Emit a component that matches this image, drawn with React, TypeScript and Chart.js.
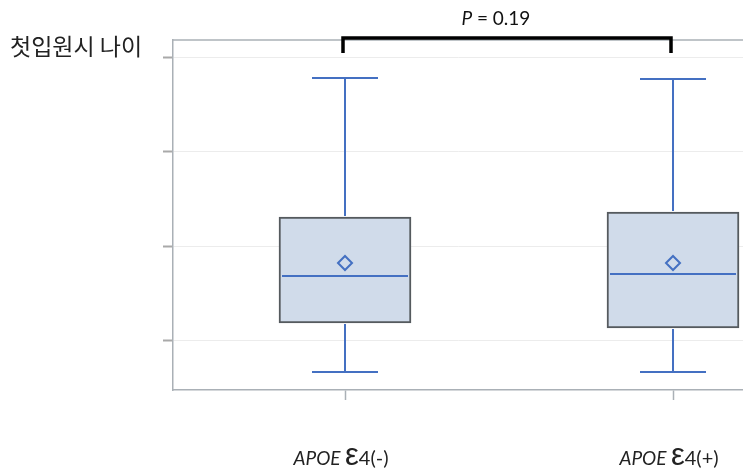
import React, { useEffect, useRef } from 'react';
import { Chart, registerables } from 'chart.js';

Chart.register(...registerables);

const categories = ['APOE ε4(-)', 'APOE ε4(+)'];
const categoryX = [1, 2];
const whiskerLow = [36.73, 36.73];
const q1 = [41.9, 41.37];
const median = [46.87, 47.08];
const q3 = [53.1, 53.63];
const whiskerHigh = [67.78, 67.68];
const means = [48.24, 48.24];
const yTicks = [40, 50, 60, 70];
const yRange = [34.82, 71.8];
const xRange = [0.4756, 2.2134];
const titleText = '첫입원시 나이';
const pLabel = ['P', ' = 0.19'];

const BLUE = '#4470c2';
const FRAME = '#aab0b6';

const boxPlugin = {
  id: 'boxExtras',
  afterDatasetsDraw(chart: any) {
    const { ctx, chartArea, scales } = chart;
    const xs = scales.x;
    const ys = scales.y;
    ctx.save();
    // top frame line
    ctx.strokeStyle = FRAME;
    ctx.lineWidth = 1.5;
    ctx.beginPath();
    ctx.moveTo(chartArea.left, chartArea.top);
    ctx.lineTo(chartArea.right, chartArea.top);
    ctx.stroke();

    // whiskers and medians
    ctx.strokeStyle = BLUE;
    ctx.lineWidth = 2;
    categoryX.forEach((cx, i) => {
      const px = xs.getPixelForValue(cx);
      const capHalf = 33;
      const boxHalf = 65;
      const yLo = ys.getPixelForValue(whiskerLow[i]);
      const yQ1 = ys.getPixelForValue(q1[i]);
      const yQ3 = ys.getPixelForValue(q3[i]);
      const yHi = ys.getPixelForValue(whiskerHigh[i]);
      const yMed = ys.getPixelForValue(median[i]);
      ctx.beginPath();
      ctx.moveTo(px, yQ3 - 1);
      ctx.lineTo(px, yHi);
      ctx.moveTo(px - capHalf, yHi);
      ctx.lineTo(px + capHalf, yHi);
      ctx.moveTo(px, yQ1 + 1);
      ctx.lineTo(px, yLo);
      ctx.moveTo(px - capHalf, yLo);
      ctx.lineTo(px + capHalf, yLo);
      ctx.moveTo(px - boxHalf + 2, yMed);
      ctx.lineTo(px + boxHalf - 2, yMed);
      ctx.stroke();
    });

    // bracket
    const bx1 = xs.getPixelForValue(categoryX[0]) - 2;
    const bx2 = xs.getPixelForValue(categoryX[1]) - 2;
    const by = chartArea.top - 2;
    ctx.strokeStyle = '#000';
    ctx.lineWidth = 3.5;
    ctx.lineCap = 'butt';
    ctx.beginPath();
    ctx.moveTo(bx1, by + 15);
    ctx.lineTo(bx1, by);
    ctx.lineTo(bx2, by);
    ctx.lineTo(bx2, by + 15);
    ctx.stroke();

    // P label
    ctx.fillStyle = '#111';
    ctx.textBaseline = 'alphabetic';
    const pFontI = 'italic 19px Lato';
    const pFont = '19px Lato';
    ctx.font = pFontI;
    const w1 = ctx.measureText(pLabel[0]).width;
    ctx.font = pFont;
    const w2 = ctx.measureText(pLabel[1]).width;
    const pcx = xs.getPixelForValue(1.46);
    let sx = pcx - (w1 + w2) / 2;
    ctx.textAlign = 'left';
    ctx.font = pFontI;
    ctx.fillText(pLabel[0], sx, 25);
    ctx.font = pFont;
    ctx.fillText(pLabel[1], sx + w1, 25);

    // title
    ctx.font = '23px "Noto Sans CJK KR"';
    ctx.fillStyle = '#222';
    ctx.textBaseline = 'middle';
    ctx.fillText(titleText, 10, 46);

    // x labels
    ctx.textBaseline = 'alphabetic';
    categories.forEach((label, i) => {
      const px = xs.getPixelForValue(categoryX[i]);
      const idx = label.indexOf('ε');
      const parts = [
        { t: label.slice(0, idx), f: 'italic 19px Lato' },
        { t: 'ε', f: '31px "Liberation Sans"' },
        { t: label.slice(idx + 1), f: '20px Lato' },
      ];
      let total = 0;
      parts.forEach((p) => {
        ctx.font = p.f;
        total += ctx.measureText(p.t).width;
      });
      let x = px - 4 - total / 2;
      parts.forEach((p) => {
        ctx.font = p.f;
        ctx.fillText(p.t, x, 465);
        x += ctx.measureText(p.t).width;
      });
    });
    ctx.restore();
  },
};

export default function App() {
  const ref = useRef<HTMLCanvasElement>(null);
  useEffect(() => {
    document.body.style.margin = '0';
    const canvas = ref.current;
    if (!canvas) return;
    const chart = new Chart(canvas, {
      type: 'bar',
      data: {
        datasets: [
          {
            type: 'bar',
            data: categoryX.map((x, i) => ({ x, y: [q1[i], q3[i]] })) as any,
            backgroundColor: '#d0dbea',
            borderColor: '#555a5e',
            borderWidth: 2,
            borderSkipped: false,
            barThickness: 132,
            order: 2,
          } as any,
          {
            type: 'scatter',
            data: categoryX.map((x, i) => ({ x, y: means[i] })),
            pointStyle: 'rectRot',
            pointRadius: 7,
            pointBorderWidth: 2,
            pointBorderColor: BLUE,
            pointBackgroundColor: 'rgba(0,0,0,0)',
            order: 1,
          } as any,
        ],
      },
      options: {
        responsive: false,
        animation: false,
        layout: { autoPadding: false, padding: { left: 163, top: 40, right: 0, bottom: 0 } },
        plugins: { legend: { display: false }, tooltip: { enabled: false } },
        scales: {
          x: {
            type: 'linear',
            min: xRange[0],
            max: xRange[1],
            offset: false,
            afterBuildTicks: (s: any) => {
              s.ticks = categoryX.map((v) => ({ value: v }));
            },
            afterFit: (s: any) => {
              s.height = 78;
              s.paddingLeft = 0;
              s.paddingRight = 0;
            },
            ticks: { display: false },
            grid: {
              display: true,
              offset: false,
              drawOnChartArea: false,
              drawTicks: true,
              tickLength: 10,
              tickColor: FRAME,
              tickWidth: 1.5,
            },
            border: { display: true, color: FRAME, width: 1.5 },
          },
          y: {
            type: 'linear',
            min: yRange[0],
            max: yRange[1],
            afterBuildTicks: (s: any) => {
              s.ticks = yTicks.map((v) => ({ value: v }));
            },
            afterFit: (s: any) => {
              s.width = 10;
              s.paddingTop = 0;
              s.paddingBottom = 0;
            },
            ticks: { display: false },
            grid: {
              display: true,
              drawOnChartArea: true,
              drawTicks: true,
              tickLength: 10,
              color: '#ececec',
              lineWidth: 1,
              tickColor: '#a9a9a9',
              tickWidth: 2,
            },
            border: { display: true, color: FRAME, width: 1.5 },
          },
        },
      } as any,
      plugins: [boxPlugin],
    });
    return () => chart.destroy();
  }, []);
  return (
    <div style={{ position: 'absolute', left: 0, top: 0, width: 743, height: 468 }}>
      <canvas ref={ref} width={743} height={468} />
    </div>
  );
}
